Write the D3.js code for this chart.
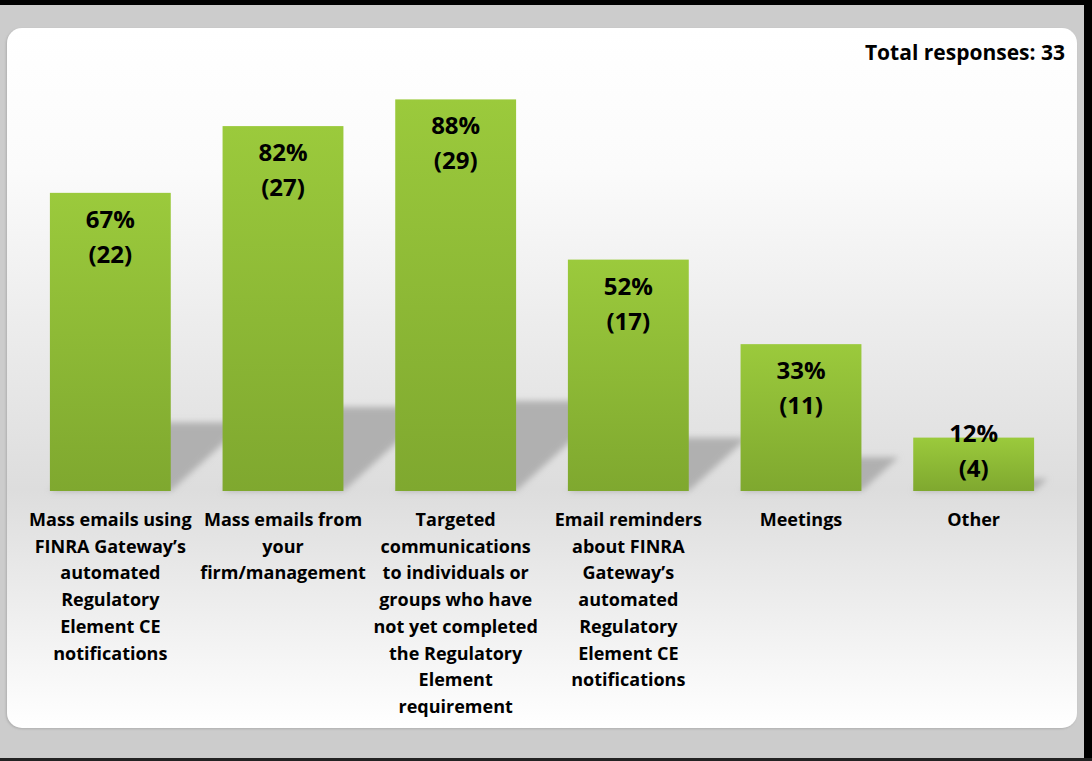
<!DOCTYPE html>
<meta charset="utf-8">
<style>
body { margin: 0; background: #cccccc; }
svg { display: block; }
.cat { font: bold 18px "Open Sans", sans-serif; fill: #000; }
.val { font: bold 24px "Open Sans", sans-serif; fill: #000; }
.total { font: bold 21px "Open Sans", sans-serif; fill: #000; }
</style>
<head>
<script src="https://d3js.org/d3.v7.min.js"></script>
</head>
<body>
<svg id="chart" width="1092" height="761"></svg>
<script>
// data
var categories = [
  "Mass emails using\nFINRA Gateway’s\nautomated\nRegulatory\nElement CE\nnotifications",
  "Mass emails from\nyour\nfirm/management",
  "Targeted\ncommunications\nto individuals or\ngroups who have\nnot yet completed\nthe Regulatory\nElement\nrequirement",
  "Email reminders\nabout FINRA\nGateway’s\nautomated\nRegulatory\nElement CE\nnotifications",
  "Meetings",
  "Other"
];
var percents = [67, 82, 88, 52, 33, 12];
var counts = [22, 27, 29, 17, 11, 4];
var totalResponses = 33;

var svg = d3.select("#chart"),
    W = +svg.attr("width"),
    H = +svg.attr("height");

var data = categories.map(function(c, i) {
  return {name: c, pct: percents[i], n: counts[i]};
});

var defs = svg.append("defs");

// panel background: white -> grey at bar base -> white
var pg = defs.append("linearGradient").attr("id", "panelGrad")
  .attr("x1", 0).attr("x2", 0).attr("y1", 0).attr("y2", 1);
pg.append("stop").attr("offset", "0%").attr("stop-color", "#ffffff");
pg.append("stop").attr("offset", "20%").attr("stop-color", "#fbfbfb");
pg.append("stop").attr("offset", "66%").attr("stop-color", "#dddddd");
pg.append("stop").attr("offset", "100%").attr("stop-color", "#ffffff");

var bg = defs.append("linearGradient").attr("id", "barGrad")
  .attr("x1", 0).attr("x2", 0).attr("y1", 0).attr("y2", 1);
bg.append("stop").attr("offset", "0%").attr("stop-color", "#9bca3c");
bg.append("stop").attr("offset", "100%").attr("stop-color", "#7fa82f");

defs.append("filter").attr("id", "blur")
  .attr("x", "-20%").attr("y", "-20%").attr("width", "140%").attr("height", "140%")
  .append("feGaussianBlur").attr("stdDeviation", 3);

var ps = defs.append("filter").attr("id", "panelShadow")
  .attr("x", "-5%").attr("y", "-5%").attr("width", "110%").attr("height", "110%");
ps.append("feDropShadow").attr("dx", -1).attr("dy", 1).attr("stdDeviation", 1.2)
  .attr("flood-color", "#999").attr("flood-opacity", 0.6);

// frame
svg.append("rect").attr("width", W).attr("height", H).attr("fill", "#cccccc");
svg.append("rect").attr("x", 0).attr("y", 0).attr("width", W).attr("height", 5).attr("fill", "#000");
svg.append("rect").attr("x", 1084).attr("y", 0).attr("width", 8).attr("height", H).attr("fill", "#000");
svg.append("rect").attr("x", 0).attr("y", 758).attr("width", W).attr("height", 3).attr("fill", "#222");

svg.append("rect")
  .attr("x", 7).attr("y", 28).attr("width", 1070).attr("height", 700)
  .attr("rx", 15).attr("ry", 15)
  .attr("fill", "url(#panelGrad)")
  .attr("filter", "url(#panelShadow)");

var x = d3.scaleBand().domain(categories).range([24, 1060])
  .paddingInner(0.3).paddingOuter(0.15);
var y = d3.scaleLinear().domain([0, 100]).range([491, 46]);

// perspective shadows behind bars
var k = 1.1, ratio = 0.23;
svg.append("g").attr("filter", "url(#blur)")
  .selectAll("polygon")
  .data(data)
  .join("polygon")
  .attr("fill", "#b0b0b0")
  .attr("points", function(d) {
    var x0 = x(d.name), x1 = x0 + x.bandwidth(), b = y(0);
    var h = (y(0) - y(d.pct)) * ratio;
    return [[x0, b], [x1, b], [x1 + k * h, b - h], [x0 + k * h, b - h]].join(" ");
  });

svg.append("g").selectAll("rect")
  .data(data)
  .join("rect")
  .attr("x", function(d) { return x(d.name); })
  .attr("y", function(d) { return y(d.pct); })
  .attr("width", x.bandwidth())
  .attr("height", function(d) { return y(0) - y(d.pct); })
  .attr("fill", "url(#barGrad)");

// value labels
var vl = svg.append("g").selectAll("text")
  .data(data)
  .join("text")
  .attr("class", "val")
  .attr("text-anchor", "middle")
  .attr("x", function(d) { return x(d.name) + x.bandwidth() / 2; })
  .attr("y", function(d) { return Math.min(y(d.pct) + 35, y(0) - 49); });
vl.append("tspan").text(function(d) { return d.pct + "%"; });
vl.append("tspan")
  .attr("x", function(d) { return x(d.name) + x.bandwidth() / 2; })
  .attr("dy", 35)
  .text(function(d) { return "(" + d.n + ")"; });

// category labels
svg.append("g").selectAll("text")
  .data(data)
  .join("text")
  .attr("class", "cat")
  .attr("text-anchor", "middle")
  .attr("y", 526)
  .each(function(d) {
    var cx = x(d.name) + x.bandwidth() / 2;
    d3.select(this).selectAll("tspan")
      .data(d.name.split("\n"))
      .join("tspan")
      .attr("x", cx)
      .attr("dy", function(t, i) { return i ? 26.7 : 0; })
      .text(function(t) { return t; });
  });

svg.append("text")
  .attr("class", "total")
  .attr("x", 1065).attr("y", 60)
  .attr("text-anchor", "end")
  .text("Total responses: " + totalResponses);
</script>
</body>
